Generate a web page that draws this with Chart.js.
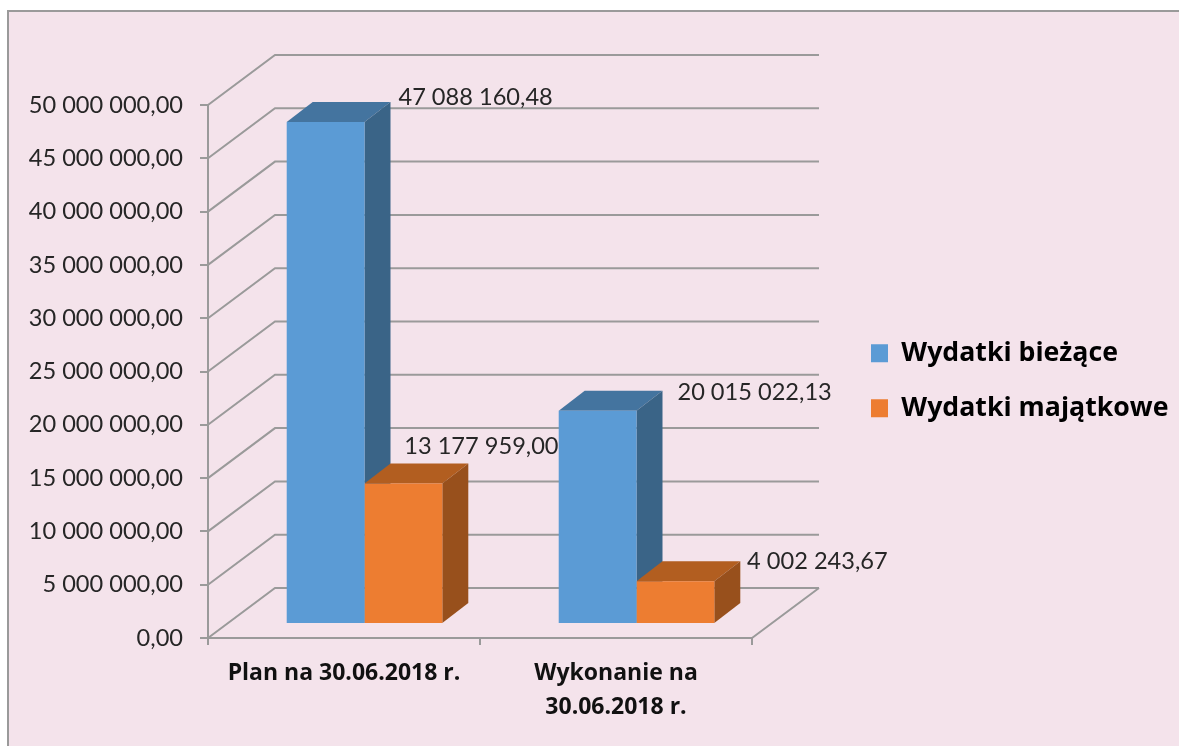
<!DOCTYPE html>
<html>
<head>
<meta charset="utf-8">
<title>Wydatki</title>
<script src="https://cdn.jsdelivr.net/npm/chart.js@4"></script>
<style>
  html, body { margin: 0; padding: 0; background: #fff; overflow: hidden; }
  #frame { position: absolute; left: 7px; top: 10px; width: 1172px; height: 736px; background: #f4e3eb;
           border-left: 2px solid #9a9a9a; border-top: 2px solid #9a9a9a; box-sizing: border-box; }
  #myChart { position: absolute; left: 0; top: 0; }
</style>
</head>
<body>
<div id="frame"></div>
<canvas id="myChart" width="1179" height="746"></canvas>
<script>
const categories = ['Plan na 30.06.2018 r.', ['Wykonanie na', '30.06.2018 r.']];
const seriesNames = ['Wydatki bieżące', 'Wydatki majątkowe'];
const biezace = [47088160.48, 20015022.13];
const majatkowe = [13177959.00, 4002243.67];
const yMin = 0;
const yMax = 50000000;
const yStep = 5000000;

// 3d look
const wallDepth = { x: 67, y: -50 };
const barDepth = { x: 26, y: -20 };
const barShift = { x: 20.5, y: -14 };
const gridColor = '#9a9a9a';
const faces = [
  { front: '#5b9bd5', top: '#44749f', side: '#3a6487' },
  { front: '#ed7d31', top: '#b25e20', side: '#98501c' }
];
// the labels were dragged by hand in the original, so each one has its own offset from the bar top
const labelOffsets = [
  [{ x: 150, y: -25 }, { x: 157, y: -18 }],
  [{ x: 78, y: -37 }, { x: 142, y: -20 }]
];

const fmt = (v) => {
  const parts = v.toFixed(2).split('.');
  return parts[0].replace(/\B(?=(\d{3})+$)/g, ' ') + ',' + parts[1];
};

const poly = (ctx, pts, color) => {
  ctx.fillStyle = color;
  ctx.beginPath();
  pts.forEach((p, i) => i ? ctx.lineTo(p[0], p[1]) : ctx.moveTo(p[0], p[1]));
  ctx.closePath();
  ctx.fill();
};

const walls3d = {
  id: 'walls3d',
  afterLayout(chart) {
    // legend sits outside the plot, move it there
    const l = chart.legend;
    l.left = 842.7; l.right = 1179; l.top = 311.5; l.bottom = 740;
  },
  beforeDatasetsDraw(chart) {
    const { ctx, scales: { x, y } } = chart;
    const left = x.left, right = x.right, base = y.getPixelForValue(yMin);
    ctx.save();
    ctx.strokeStyle = gridColor;
    ctx.lineWidth = 2;
    ctx.beginPath();
    for (let v = yMin; v <= yMax; v += yStep) {
      const py = y.getPixelForValue(v);
      ctx.moveTo(left, py);
      ctx.lineTo(left + wallDepth.x, py + wallDepth.y);
      ctx.lineTo(right + wallDepth.x, py + wallDepth.y);
    }
    ctx.moveTo(right, base);
    ctx.lineTo(right + wallDepth.x, base + wallDepth.y);
    ctx.stroke();

    // top and side faces, blue first so orange sits over it
    ctx.translate(barShift.x, barShift.y);
    chart.data.datasets.forEach((ds, i) => {
      const f = faces[i];
      chart.getDatasetMeta(i).data.forEach((bar) => {
        const l = bar.x - bar.width / 2, r = bar.x + bar.width / 2;
        const t = bar.y, b = bar.base;
        poly(ctx, [[l, t], [r, t], [r + barDepth.x, t + barDepth.y], [l + barDepth.x, t + barDepth.y]], f.top);
        poly(ctx, [[r, t], [r + barDepth.x, t + barDepth.y], [r + barDepth.x, b + barDepth.y], [r, b]], f.side);
      });
    });
    ctx.restore();
  },
  beforeDatasetDraw(chart) {
    chart.ctx.save();
    chart.ctx.translate(barShift.x, barShift.y);
  },
  afterDatasetDraw(chart) {
    chart.ctx.restore();
  },
  afterDatasetsDraw(chart) {
    const { ctx } = chart;
    ctx.save();
    ctx.font = '23.6px Lato';
    ctx.fillStyle = '#262626';
    ctx.textAlign = 'center';
    ctx.textBaseline = 'middle';
    chart.data.datasets.forEach((ds, i) => {
      chart.getDatasetMeta(i).data.forEach((bar, j) => {
        const off = labelOffsets[i][j];
        ctx.fillText(fmt(ds.data[j]), bar.x + barShift.x + off.x, bar.y + barShift.y + off.y);
      });
    });
    ctx.restore();
  }
};

const ctx = document.getElementById('myChart').getContext('2d');
const myChart = new Chart(ctx, {
  type: 'bar',
  data: {
    labels: categories,
    datasets: [
      { label: seriesNames[0], data: biezace, backgroundColor: faces[0].front },
      { label: seriesNames[1], data: majatkowe, backgroundColor: faces[1].front }
    ]
  },
  plugins: [walls3d],
  options: {
    responsive: false,
    animation: false,
    layout: { padding: { left: 0, top: 105, right: 427, bottom: 0 } },
    datasets: { bar: { barPercentage: 1, categoryPercentage: 0.572 } },
    plugins: {
      tooltip: { enabled: false },
      legend: {
        position: 'chartArea',
        align: 'start',
        labels: {
          boxWidth: 17,
          boxHeight: 18,
          padding: 28.3,
          color: '#111',
          font: { family: 'Open Sans', size: 26.7, weight: 'bold' },
          generateLabels(chart) {
            return chart.data.datasets.map((ds, i) => ({
              text: ds.label, fillStyle: ds.backgroundColor, strokeStyle: ds.backgroundColor,
              lineWidth: 0, datasetIndex: i
            }));
          }
        }
      }
    },
    scales: {
      x: {
        afterFit(s) { s.height = 108; },
        grid: { drawOnChartArea: false, color: gridColor, lineWidth: 2, tickLength: 7 },
        border: { color: gridColor, width: 2 },
        ticks: {
          color: '#111',
          padding: 11,
          autoSkip: false,
          maxRotation: 0,
          font: { family: 'Open Sans', size: 23, weight: 'bold', lineHeight: 1.48 }
        }
      },
      y: {
        min: yMin,
        max: yMax,
        afterFit(s) { s.width = 208; },
        grid: { drawOnChartArea: false, color: gridColor, lineWidth: 2, tickLength: 8 },
        border: { color: gridColor, width: 2 },
        ticks: {
          stepSize: yStep,
          color: '#262626',
          padding: 17,
          font: { family: 'Lato', size: 23.6 },
          callback: (v) => fmt(v)
        }
      }
    }
  }
});
</script>
</body>
</html>
